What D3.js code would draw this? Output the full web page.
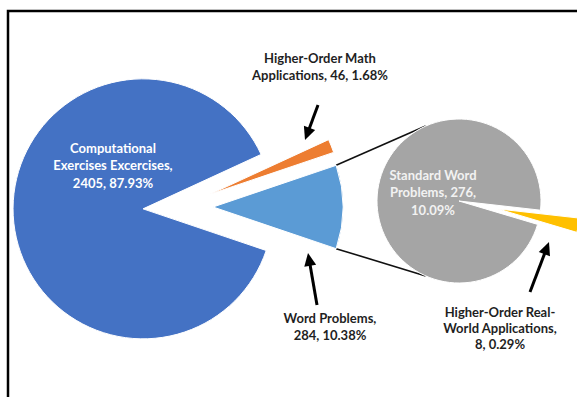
<!DOCTYPE html>
<html>
<head>
<meta charset="utf-8">
<script src="https://cdn.jsdelivr.net/npm/d3@7"></script>
<style>
  html, body { margin: 0; padding: 0; background: #fff; }
  svg { display: block; }
  text { font-family: Lato, "Open Sans", sans-serif; font-weight: 700; }
</style>
</head>
<body>
<div id="root"></div>
<script>
// main pie: the last slice is broken out into the small pie
const mainNames = ["Computational Exercises Excercises", "Higher-Order Math Applications", "Word Problems"]
const mainValues = [2405, 46, 284]
// small pie
const subNames = ["Standard Word Problems", "Higher-Order Real-World Applications"]
const subValues = [276, 8]

// label text, {v} = count, {p} = share of all items
const mainLabels = [
  "Computational\nExercises Excercises,\n{v}, {p}",
  "Higher-Order Math\nApplications, {v}, {p}",
  "Word Problems,\n{v}, {p}",
]
const subLabels = [
  "Standard Word\nProblems, {v},\n{p}",
  "Higher-Order Real-\nWorld Applications,\n{v}, {p}",
]

const mainColors = ["#4472c4", "#ed7d31", "#5b9bd5"]
const subColors = ["#a5a5a5", "#ffc000"]

function drawChart() {
  const width = 577
  const height = 397

  const root = d3.select("#root")
  root.selectAll("*").remove()

  const svg = root.append("svg")
    .attr("width", width)
    .attr("height", height)

  // chart frame
  svg.append("rect")
    .attr("x", 8)
    .attr("y", 11)
    .attr("width", 640)
    .attr("height", 420)
    .attr("fill", "none")
    .attr("stroke", "#000")
    .attr("stroke-width", 2.5)

  const total = d3.sum(mainValues)
  const pct = d3.format(".2%")
  const deg = d => d * Math.PI / 180
  const polar = (x, y, r, a) => [x + r * Math.sin(a), y - r * Math.cos(a)]

  const main = { cx: 178, cy: 207, r: 130, explode: 35 }
  const sub = { cx: 459, cy: 201, r: 82, explode: 40 }

  // "other" slice sits centred on 3 o'clock
  const otherAngle = 2 * Math.PI * mainValues[2] / total
  const mainStart = Math.PI / 2 + otherAngle / 2
  const mainArcs = d3.pie().sort(null)
    .startAngle(mainStart)
    .endAngle(mainStart + 2 * Math.PI)(mainValues)

  const subTotal = d3.sum(subValues)
  const smallAngle = 2 * Math.PI * subValues[1] / subTotal
  const subStart = deg(101.5) + smallAngle / 2
  const subArcs = d3.pie().sort(null)
    .startAngle(subStart)
    .endAngle(subStart + 2 * Math.PI)(subValues)

  const mainArc = d3.arc().innerRadius(0).outerRadius(main.r)
  const subArc = d3.arc().innerRadius(0).outerRadius(sub.r)

  const midAngle = d => (d.startAngle + d.endAngle) / 2
  const mainVertex = d => polar(main.cx, main.cy, main.explode, midAngle(d))
  const subVertex = (d, i) => polar(sub.cx, sub.cy, i === 1 ? sub.explode : 0, midAngle(d))

  // connector lines from the "other" slice to the small pie
  const other = mainArcs[2]
  const ov = mainVertex(other)
  const links = [
    [polar(ov[0], ov[1], main.r, other.startAngle), polar(sub.cx, sub.cy, sub.r, deg(-24))],
    [polar(ov[0], ov[1], main.r, other.endAngle), polar(sub.cx, sub.cy, sub.r, deg(204))],
  ]
  svg.append("g")
    .selectAll("line")
    .data(links)
    .join("line")
    .attr("x1", d => d[0][0])
    .attr("y1", d => d[0][1])
    .attr("x2", d => d[1][0])
    .attr("y2", d => d[1][1])
    .attr("stroke", "#111")
    .attr("stroke-width", 1.6)

  svg.append("g")
    .selectAll("path")
    .data(mainArcs)
    .join("path")
    .attr("transform", d => `translate(${mainVertex(d)})`)
    .attr("d", mainArc)
    .attr("fill", (d, i) => mainColors[i])
    .attr("stroke", "#fff")
    .attr("stroke-width", 1)

  svg.append("g")
    .selectAll("path")
    .data(subArcs)
    .join("path")
    .attr("transform", (d, i) => `translate(${subVertex(d, i)})`)
    .attr("d", subArc)
    .attr("fill", (d, i) => subColors[i])
    .attr("stroke", "#fff")
    .attr("stroke-width", 1)

  // labels
  const fill = (t, v) => t.replace("{v}", v).replace("{p}", pct(v / total))
  const labels = [
    { text: fill(mainLabels[0], mainValues[0]), x: 113, y: 148, color: "#fff", lh: 17.5 },
    { text: fill(mainLabels[1], mainValues[1]), x: 320, y: 58, color: "#1f1f1f", lh: 17.5 },
    { text: fill(mainLabels[2], mainValues[2]), x: 330, y: 318, color: "#1f1f1f", lh: 17 },
    { text: fill(subLabels[0], subValues[0]), x: 433, y: 175, color: "#f2f2f2", lh: 17.5 },
    { text: fill(subLabels[1], subValues[1]), x: 500, y: 312, color: "#1f1f1f", lh: 16.3 },
  ]

  const labelGroups = svg.append("g")
    .selectAll("text")
    .data(labels)
    .join("text")
    .attr("text-anchor", "middle")
    .attr("font-size", 13)
    .attr("fill", d => d.color)

  labelGroups.selectAll("tspan")
    .data(d => d.text.split("\n").map((line, i) => ({ line, i, d })))
    .join("tspan")
    .attr("x", t => t.d.x)
    .attr("y", t => t.d.y + t.i * t.d.lh)
    .attr("dy", "0.35em")
    .text(t => t.line)

  // arrows pointing at the small slices
  const arrows = [
    { from: [318, 105], to: [305, 140] },
    { from: [317, 305], to: [308, 253] },
    { from: [530, 292], to: [549, 242] },
  ]
  const headLen = 13
  const headHalf = 6

  const arrowGroups = svg.append("g")
    .selectAll("g")
    .data(arrows)
    .join("g")

  arrowGroups.append("line")
    .attr("x1", d => d.from[0])
    .attr("y1", d => d.from[1])
    .attr("x2", d => {
      const len = Math.hypot(d.to[0] - d.from[0], d.to[1] - d.from[1])
      return d.to[0] - (d.to[0] - d.from[0]) / len * (headLen - 2)
    })
    .attr("y2", d => {
      const len = Math.hypot(d.to[0] - d.from[0], d.to[1] - d.from[1])
      return d.to[1] - (d.to[1] - d.from[1]) / len * (headLen - 2)
    })
    .attr("stroke", "#000")
    .attr("stroke-width", 3)

  arrowGroups.append("path")
    .attr("d", d => {
      const dx = d.to[0] - d.from[0]
      const dy = d.to[1] - d.from[1]
      const len = Math.hypot(dx, dy)
      const ux = dx / len, uy = dy / len
      const bx = d.to[0] - ux * headLen, by = d.to[1] - uy * headLen
      return `M${d.to[0]},${d.to[1]}L${bx - uy * headHalf},${by + ux * headHalf}L${bx + uy * headHalf},${by - ux * headHalf}Z`
    })
    .attr("fill", "#000")
}

drawChart()
</script>
</body>
</html>
